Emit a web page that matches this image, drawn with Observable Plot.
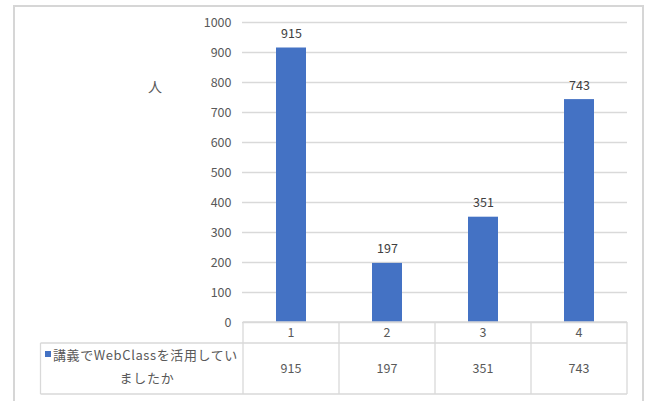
<!DOCTYPE html>
<html>
<head>
<meta charset="utf-8">
<script src="https://cdn.jsdelivr.net/npm/d3@7"></script>
<script src="https://cdn.jsdelivr.net/npm/@observablehq/plot@0.6"></script>
<style>
  html, body { margin: 0; padding: 0; background: #fff; }
  #chart { width: 651px; height: 401px; overflow: hidden; }
</style>
</head>
<body>
<div id="chart"></div>
<script>
const categories = ["1", "2", "3", "4"];
const values = [915, 197, 351, 743];
const seriesLines = ["講義でWebClassを活用してい", "ましたか"];
const yTicks = [0, 100, 200, 300, 400, 500, 600, 700, 800, 900, 1000];
const yLabel = "人";

const data = categories.map((c, i) => ({ category: c, value: values[i] }));
const FONT = "'Noto Sans CJK JP', 'Noto Sans', sans-serif";
const GRID = "#d9d9d9";
const TXT = "#595959";
const BAR = "#4472c4";

const chart = Plot.plot({
  width: 651,
  height: 401,
  marginLeft: 242,
  marginRight: 24,
  marginTop: 22,
  marginBottom: 79,
  style: { fontFamily: FONT, fontSize: "12px", color: TXT, background: "#fff", overflow: "hidden" },
  x: { domain: categories, padding: 0, axis: null },
  y: { domain: [0, 1000], ticks: yTicks },
  marks: [
    Plot.gridY(yTicks, { stroke: GRID, strokeOpacity: 1, strokeWidth: 1.3 }),
    Plot.axisY(yTicks, { tickSize: 0, tickPadding: 11, label: null, fill: TXT, fontSize: 12.5, tickFormat: d => String(d) }),
    Plot.barY(data, { x: "category", y: "value", fill: BAR, insetLeft: 33, insetRight: 33 }),
    Plot.text(data, { x: "category", y: "value", text: d => String(d.value), dy: -14, fill: "#404040", fontSize: 12.5 })
  ]
});

document.getElementById("chart").appendChild(chart);

const svg = d3.select(chart);
const xs = chart.scale("x");
const ys = chart.scale("y");
const step = xs.step !== undefined ? xs.step : xs.bandwidth;
const colStarts = categories.map(c => xs.apply(c));
const colEnd = colStarts[colStarts.length - 1] + step;
const y0 = ys.apply(0);
const headerBottom = y0 + 21;
const tableBottom = 394;
const tableLeft = 40.5;

const g = svg.append("g").attr("font-family", FONT).attr("font-size", 12.5).attr("text-anchor", "start");

// outer chart-area frame
g.append("rect")
  .attr("x", 14).attr("y", 6).attr("width", 629).attr("height", 420)
  .attr("fill", "none").attr("stroke", "#d6d6d6").attr("stroke-width", 2);

// y label
g.append("text").attr("x", 155).attr("y", 88)
  .attr("text-anchor", "middle").attr("dominant-baseline", "middle")
  .attr("fill", TXT).attr("font-size", 14).text(yLabel);

const line = (x1, y1, x2, y2) => g.append("line")
  .attr("x1", x1).attr("y1", y1).attr("x2", x2).attr("y2", y2)
  .attr("stroke", GRID).attr("stroke-width", 1.3);

// data table
line(colStarts[0], y0, colEnd, y0);
line(tableLeft, headerBottom, colEnd, headerBottom);
line(tableLeft, tableBottom, colEnd, tableBottom);
line(tableLeft, headerBottom, tableLeft, tableBottom);
colStarts.forEach(x => line(x, y0, x, tableBottom));
line(colEnd, y0, colEnd, tableBottom);

categories.forEach((c, i) => {
  g.append("text").attr("x", colStarts[i] + step / 2).attr("y", (y0 + headerBottom) / 2 + 1)
    .attr("text-anchor", "middle").attr("dominant-baseline", "middle")
    .attr("fill", TXT).text(c);
  g.append("text").attr("x", colStarts[i] + step / 2).attr("y", (headerBottom + tableBottom) / 2 + 1)
    .attr("text-anchor", "middle").attr("dominant-baseline", "middle")
    .attr("fill", TXT).text(String(values[i]));
});

// legend key + series name
g.append("rect").attr("x", 45).attr("y", 351).attr("width", 6).attr("height", 6).attr("fill", BAR);
g.append("text").attr("x", 53).attr("y", 356).attr("dominant-baseline", "middle")
  .attr("text-anchor", "start")
  .attr("fill", TXT).attr("font-size", 13).attr("letter-spacing", 0.6)
  .text(seriesLines[0]);
g.append("text").attr("x", 147).attr("y", 379).attr("dominant-baseline", "middle")
  .attr("text-anchor", "middle").attr("fill", TXT).attr("font-size", 13).attr("letter-spacing", 0.8)
  .text(seriesLines[1]);
</script>
</body>
</html>
